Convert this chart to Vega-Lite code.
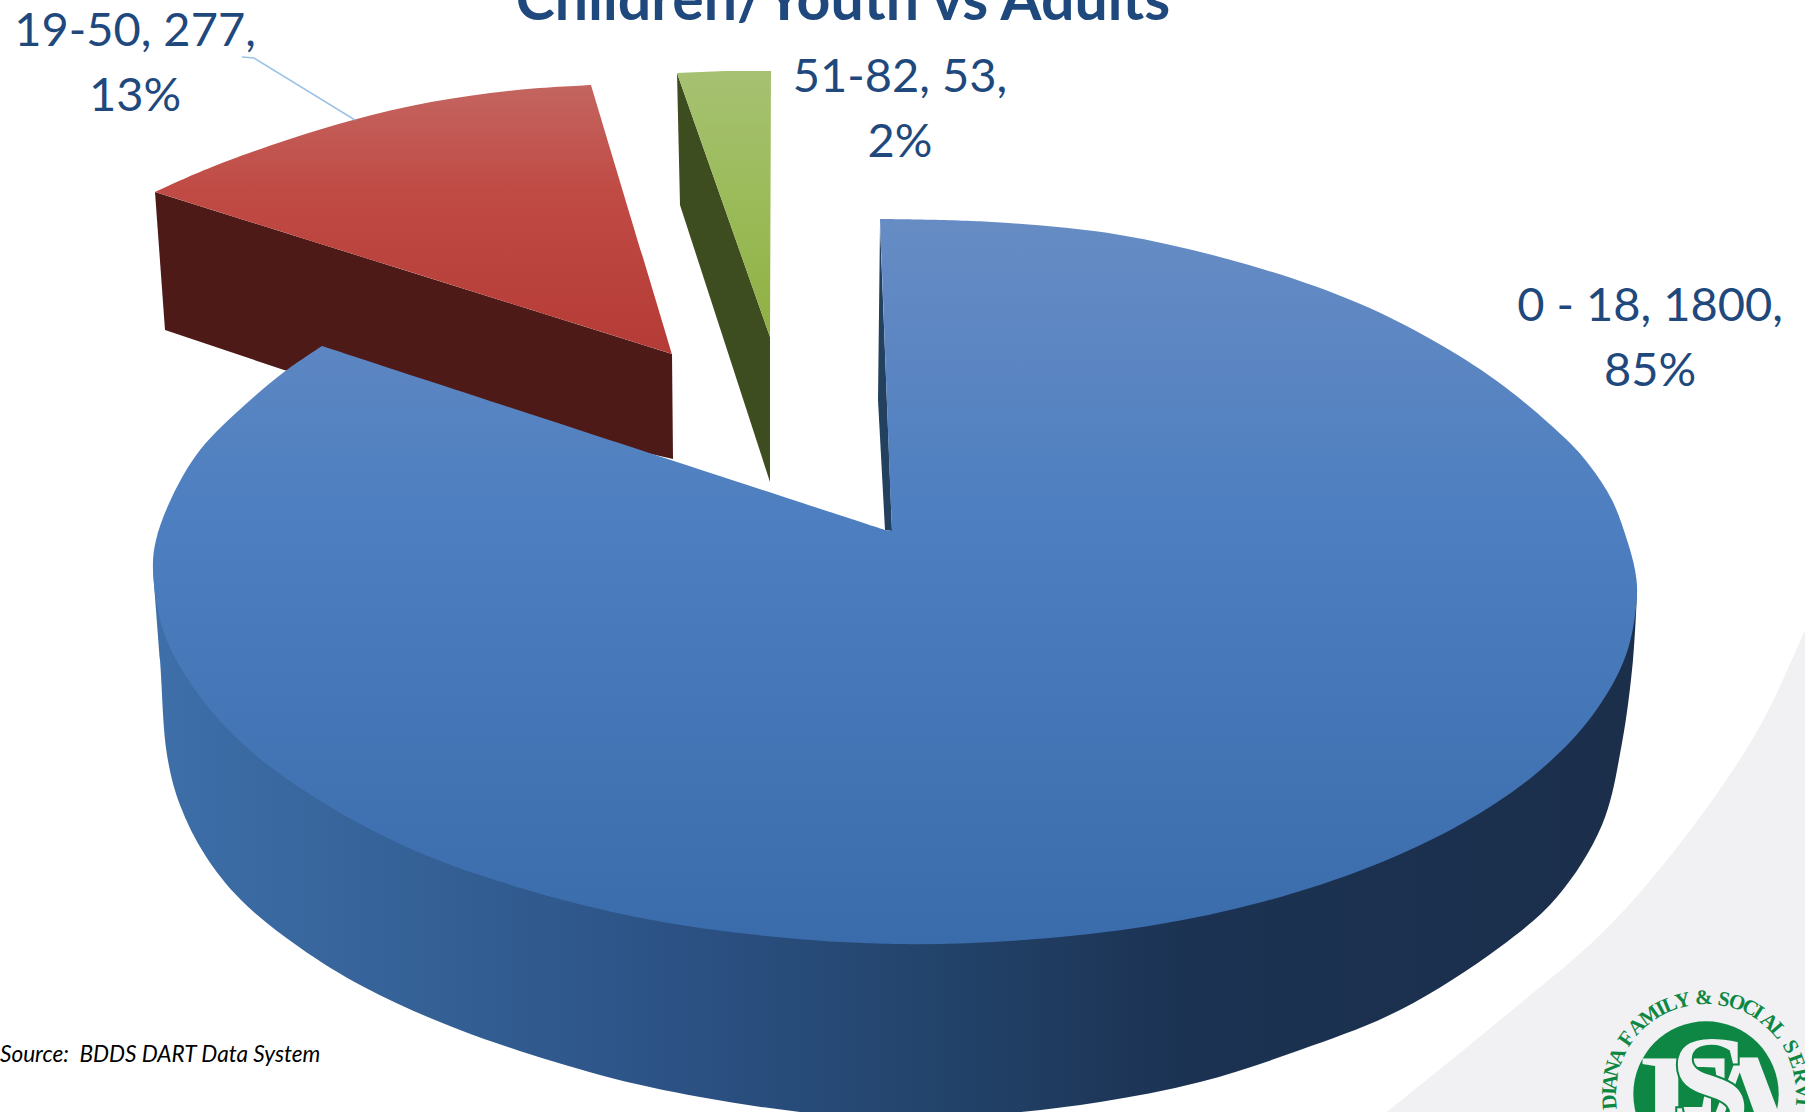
{"$schema":"https://vega.github.io/schema/vega-lite/v6.json","width":1805,"height":1112,"autosize":"none","padding":0,"background":"#ffffff","config":{"view":{"stroke":null}},
"datasets":{
"slices":[{"age":"0 - 18","count":1800,"pct":"85%","label":"0 - 18, 1800,\n85%","x":1650,"y":321},{"age":"19-50","count":277,"pct":"13%","label":"19-50, 277,\n13%","x":135,"y":46},{"age":"51-82","count":53,"pct":"2%","label":"51-82, 53,\n2%","x":900,"y":92}],
"title":[{"text":"Children/Youth vs Adults","x":843,"y":20}],
"source":[{"text":"Source:\u00a0 BDDS DART Data System","x":0,"y":1062}],
"logo":[{"x":1706,"y":1094}],
"ring":[{"t":"D","x":1610,"y":1102,"a":-95},{"t":"I","x":1610,"y":1091,"a":-88},{"t":"A","x":1611,"y":1082,"a":-83},{"t":"N","x":1613,"y":1069,"a":-75},{"t":"A","x":1618,"y":1056,"a":-67},{"t":"F","x":1627,"y":1039,"a":-55},{"t":"A","x":1637,"y":1027,"a":-46},{"t":"M","x":1650,"y":1016,"a":-36},{"t":"I","x":1661,"y":1009,"a":-28},{"t":"L","x":1670,"y":1005,"a":-22},{"t":"Y","x":1683,"y":1001,"a":-14},{"t":"&","x":1704,"y":998,"a":-1},{"t":"S","x":1724,"y":1000,"a":11},{"t":"O","x":1737,"y":1003,"a":19},{"t":"C","x":1750,"y":1008,"a":27},{"t":"I","x":1758,"y":1013,"a":33},{"t":"A","x":1769,"y":1022,"a":41},{"t":"L","x":1778,"y":1031,"a":49},{"t":"S","x":1790,"y":1047,"a":61},{"t":"E","x":1796,"y":1061,"a":70},{"t":"R","x":1800,"y":1076,"a":79},{"t":"V","x":1802,"y":1091,"a":88},{"t":"I","x":1802,"y":1102,"a":95}],
"fsaF":[{"t":"F","x":1640,"y":1157}],"fsaA":[{"t":"A","x":1747,"y":1157}],"fsaS":[{"t":"S","x":1710,"y":1138}],
"swoosh":[{"i":1,"x":1805,"y":630},{"i":2,"x":1805,"y":630},{"i":3,"x":1767,"y":713},{"i":4,"x":1733,"y":770},{"i":5,"x":1667,"y":860},{"i":6,"x":1600,"y":935},{"i":7,"x":1500,"y":1020},{"i":8,"x":1387,"y":1112},{"i":9,"x":1387,"y":1112},{"i":10,"x":1805,"y":1112},{"i":11,"x":1805,"y":1112}],
"redWall":[{"i":1,"x":155,"y":192},{"i":2,"x":165,"y":330},{"i":3,"x":284,"y":370},{"i":4,"x":673,"y":459},{"i":5,"x":672,"y":354}],
"redTop":[{"i":1,"x":155,"y":192},{"i":2,"x":155,"y":192},{"i":3,"x":195,"y":174},{"i":4,"x":230,"y":160},{"i":5,"x":287,"y":140},{"i":6,"x":353,"y":120},{"i":7,"x":431,"y":102},{"i":8,"x":517,"y":90},{"i":9,"x":591,"y":85},{"i":10,"x":591,"y":85},{"i":11,"x":672,"y":354},{"i":12,"x":672,"y":354},{"i":13,"x":155,"y":192},{"i":14,"x":155,"y":192}],
"greenWall":[{"i":1,"x":677,"y":73},{"i":2,"x":680,"y":205},{"i":3,"x":770,"y":482},{"i":4,"x":770,"y":337}],
"greenTop":[{"i":1,"x":677,"y":73},{"i":2,"x":725,"y":71},{"i":3,"x":771,"y":71},{"i":4,"x":770,"y":337}],
"leader":[{"i":1,"x":242,"y":57},{"i":2,"x":254,"y":58},{"i":3,"x":355,"y":120}],
"mainWall":[{"i":1,"x":1637,"y":593},{"i":2,"x":1637,"y":593},{"i":3,"x":1633,"y":660},{"i":4,"x":1622,"y":743},{"i":5,"x":1602,"y":825},{"i":6,"x":1557,"y":897},{"i":7,"x":1500,"y":947},{"i":8,"x":1400,"y":1010},{"i":9,"x":1300,"y":1050},{"i":10,"x":1200,"y":1082},{"i":11,"x":1100,"y":1102},{"i":12,"x":1000,"y":1114},{"i":13,"x":900,"y":1120},{"i":14,"x":800,"y":1112},{"i":15,"x":700,"y":1097},{"i":16,"x":600,"y":1075},{"i":17,"x":460,"y":1030},{"i":18,"x":364,"y":987},{"i":19,"x":299,"y":947},{"i":20,"x":241,"y":900},{"i":21,"x":205,"y":855},{"i":22,"x":180,"y":805},{"i":23,"x":167,"y":755},{"i":24,"x":160,"y":660},{"i":25,"x":153,"y":570},{"i":26,"x":153,"y":570}],
"mainSliver":[{"i":1,"x":880,"y":225},{"i":2,"x":878,"y":400},{"i":3,"x":885,"y":530},{"i":4,"x":892,"y":531}],
"mainTop":[{"i":1,"x":880,"y":219},{"i":2,"x":880,"y":219},{"i":3,"x":992,"y":222},{"i":4,"x":1120,"y":235},{"i":5,"x":1249,"y":265},{"i":6,"x":1358,"y":303},{"i":7,"x":1441,"y":345},{"i":8,"x":1505,"y":387},{"i":9,"x":1569,"y":442},{"i":10,"x":1590,"y":466},{"i":11,"x":1612,"y":500},{"i":12,"x":1627,"y":540},{"i":13,"x":1635,"y":570},{"i":14,"x":1637,"y":595},{"i":15,"x":1626,"y":655},{"i":16,"x":1592,"y":716},{"i":17,"x":1538,"y":772},{"i":18,"x":1463,"y":823},{"i":19,"x":1372,"y":866},{"i":20,"x":1266,"y":901},{"i":21,"x":1149,"y":926},{"i":22,"x":1024,"y":940},{"i":23,"x":895,"y":944},{"i":24,"x":766,"y":936},{"i":25,"x":641,"y":918},{"i":26,"x":524,"y":889},{"i":27,"x":418,"y":852},{"i":28,"x":327,"y":805},{"i":29,"x":252,"y":752},{"i":30,"x":198,"y":694},{"i":31,"x":164,"y":633},{"i":32,"x":153,"y":570},{"i":33,"x":156,"y":540},{"i":34,"x":172,"y":497},{"i":35,"x":200,"y":450},{"i":36,"x":247,"y":403},{"i":37,"x":284,"y":372},{"i":38,"x":322,"y":346},{"i":39,"x":322,"y":346},{"i":40,"x":885,"y":530},{"i":41,"x":885,"y":530},{"i":42,"x":892,"y":531},{"i":43,"x":892,"y":531},{"i":44,"x":880,"y":219},{"i":45,"x":880,"y":219}]
},
"encoding":{"x":{"field":"x","type":"quantitative","scale":{"domain":[0,1805],"nice":false,"zero":false},"axis":null},"y":{"field":"y","type":"quantitative","scale":{"domain":[1112,0],"nice":false,"zero":false},"axis":null}},
"layer":[
{"data":{"name":"swoosh"},"mark":{"type":"line","fill":"#f1f1f4","stroke":"#f1f1f4","strokeWidth":0,"interpolate":"catmull-rom","clip":true},"encoding":{"order":{"field":"i"}}},
{"data":{"name":"redWall"},"mark":{"type":"line","fill":"#4e1a18","stroke":"#4e1a18","strokeWidth":0,"clip":true},"encoding":{"order":{"field":"i"}}},
{"data":{"name":"redTop"},"mark":{"type":"line","interpolate":"catmull-rom","strokeWidth":0,"stroke":"#c04a44","fill":{"gradient":"linear","x1":0,"y1":0,"x2":0,"y2":1,"stops":[{"offset":0,"color":"#c46560"},{"offset":0.4,"color":"#c04a44"},{"offset":1,"color":"#b53b36"}]},"clip":true},"encoding":{"order":{"field":"i"}}},
{"data":{"name":"greenWall"},"mark":{"type":"line","fill":"#3e4d1f","stroke":"#3e4d1f","strokeWidth":0,"clip":true},"encoding":{"order":{"field":"i"}}},
{"data":{"name":"greenTop"},"mark":{"type":"line","strokeWidth":0,"stroke":"#9bbb59","fill":{"gradient":"linear","x1":0,"y1":0,"x2":0,"y2":1,"stops":[{"offset":0,"color":"#a6c172"},{"offset":0.5,"color":"#9bbb59"},{"offset":1,"color":"#8fb042"}]},"clip":true},"encoding":{"order":{"field":"i"}}},
{"data":{"name":"leader"},"mark":{"type":"line","stroke":"#9dc3e6","strokeWidth":1.5},"encoding":{"order":{"field":"i"}}},
{"data":{"name":"mainWall"},"mark":{"type":"line","interpolate":"catmull-rom","strokeWidth":0,"stroke":"#24466f","fill":{"gradient":"linear","x1":0,"y1":0,"x2":1,"y2":0,"stops":[{"offset":0,"color":"#3e6fa9"},{"offset":0.2,"color":"#335f94"},{"offset":0.35,"color":"#2c5285"},{"offset":0.5,"color":"#24466f"},{"offset":0.7,"color":"#1b3252"},{"offset":1,"color":"#1b2f4b"}]},"clip":true},"encoding":{"order":{"field":"i"}}},
{"data":{"name":"mainSliver"},"mark":{"type":"line","fill":"#24405f","stroke":"#24405f","strokeWidth":0,"clip":true},"encoding":{"order":{"field":"i"}}},
{"data":{"name":"mainTop"},"mark":{"type":"line","interpolate":"catmull-rom","strokeWidth":0,"stroke":"#4a7cbd","fill":{"gradient":"linear","x1":0,"y1":0,"x2":0,"y2":1,"stops":[{"offset":0,"color":"#678cc4"},{"offset":0.4,"color":"#4e7fc0"},{"offset":1,"color":"#3a6bab"}]},"clip":true},"encoding":{"order":{"field":"i"}}},
{"data":{"name":"logo"},"mark":{"type":"point","filled":true,"color":"#0d8743","size":21124,"opacity":1,"clip":true}},
{"data":{"name":"fsaF"},"mark":{"type":"text","font":"Liberation Serif","fontWeight":"bold","fontSize":150,"align":"left","baseline":"alphabetic","color":"#f1f1f4","clip":true},"encoding":{"text":{"field":"t"}}},
{"data":{"name":"fsaA"},"mark":{"type":"text","font":"Liberation Serif","fontWeight":"bold","fontSize":150,"align":"center","baseline":"alphabetic","color":"#f1f1f4","clip":true},"encoding":{"text":{"field":"t"}}},
{"data":{"name":"fsaS"},"mark":{"type":"text","font":"Liberation Serif","fontWeight":"bold","fontSize":150,"align":"center","baseline":"alphabetic","color":"#f1f1f4","stroke":"#0d8743","strokeWidth":2,"clip":true},"encoding":{"text":{"field":"t"}}},
{"data":{"name":"ring"},"mark":{"type":"text","font":"Liberation Serif","fontWeight":"bold","fontSize":21,"align":"center","baseline":"middle","color":"#0d8743","clip":true},"encoding":{"text":{"field":"t"},"angle":{"field":"a","type":"quantitative","scale":null}}},
{"data":{"name":"slices"},"mark":{"type":"text","font":"Lato","fontSize":47,"align":"center","baseline":"alphabetic","lineBreak":"\n","lineHeight":65,"color":"#1f497d"},"encoding":{"text":{"field":"label"}}},
{"data":{"name":"title"},"mark":{"type":"text","font":"Lato","fontWeight":"bold","fontSize":59,"align":"center","baseline":"alphabetic","color":"#1f497d"},"encoding":{"text":{"field":"text"}}},
{"data":{"name":"source"},"mark":{"type":"text","font":"Lato","fontStyle":"italic","fontSize":22.6,"align":"left","baseline":"alphabetic","color":"#000000"},"encoding":{"text":{"field":"text"}}}
]}
